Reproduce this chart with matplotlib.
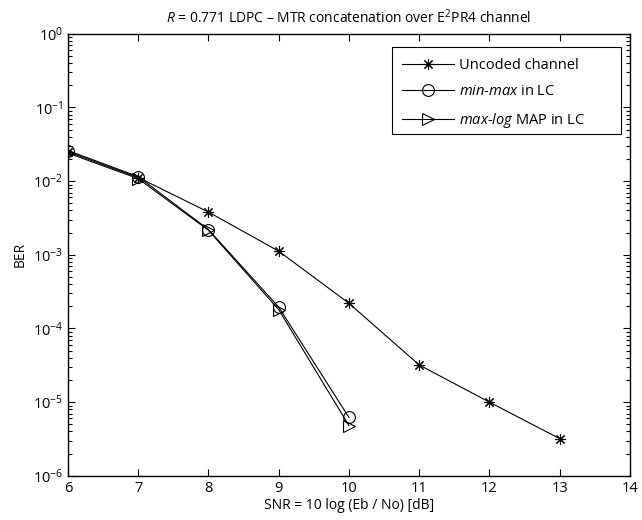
import matplotlib
matplotlib.use("Agg")
import matplotlib.pyplot as plt
from matplotlib.patches import Rectangle
from matplotlib.ticker import LogLocator, NullFormatter

plt.rcParams["font.family"] = ["Open Sans", "DejaVu Sans"]
plt.rcParams["mathtext.fontset"] = "custom"
plt.rcParams["mathtext.rm"] = "Open Sans"
plt.rcParams["mathtext.it"] = "Open Sans:italic"
plt.rcParams["font.size"] = 10

# data
snr_uncoded = [6, 7, 8, 9, 10, 11, 12, 13]
ber_uncoded = [2.5e-2, 1.12e-2, 3.8e-3, 1.12e-3, 2.2e-4, 3.2e-5, 1.0e-5, 3.2e-6]

snr_minmax = [6, 7, 8, 9, 10]
ber_minmax = [2.6e-2, 1.15e-2, 2.2e-3, 1.95e-4, 6.2e-6]

snr_maxlog = [6, 7, 8, 9, 10]
ber_maxlog = [2.4e-2, 1.08e-2, 2.15e-3, 1.8e-4, 4.8e-6]

fig = plt.figure(figsize=(6.42, 5.2), dpi=100)
ax = fig.add_axes([0.106, 0.085, 0.875, 0.85])

ax.semilogy(snr_uncoded, ber_uncoded, color="black", lw=0.8, marker=(8, 2, 0),
            markersize=8, markeredgewidth=0.8, label="Uncoded channel")
ax.semilogy(snr_minmax, ber_minmax, color="black", lw=0.8, marker="o",
            markersize=8.5, markerfacecolor="none", markeredgewidth=0.8,
            label=r"$min$-$max$ in LC")
ax.semilogy(snr_maxlog, ber_maxlog, color="black", lw=0.8, marker=">",
            markersize=8.5, markerfacecolor="none", markeredgewidth=0.8,
            label=r"$max$-$log$ MAP in LC")

ax.set_xlim(6, 14)
ax.set_ylim(1e-6, 1)
ax.set_xticks(range(6, 15))
ax.yaxis.set_major_locator(LogLocator(base=10, numticks=10))
ax.yaxis.set_minor_locator(LogLocator(base=10, subs=range(2, 10), numticks=20))
ax.yaxis.set_minor_formatter(NullFormatter())
ax.tick_params(which="both", direction="in", top=True, right=True, width=0.8)
ax.tick_params(which="major", length=5, labelsize=10.5)
ax.tick_params(which="minor", length=3)
for s in ax.spines.values():
    s.set_linewidth(1.0)

ax.set_xlabel("SNR = 10 log (Eb / No) [dB]", labelpad=2)
ax.set_ylabel("BER")
ax.set_title(r"$R$ = 0.771 LDPC – MTR concatenation over E$^2$PR4 channel",
             fontsize=10, pad=8)

# legend box, MATLAB style with extra room on the right
ax.add_patch(Rectangle((0.576, 0.774), 0.408, 0.197, transform=ax.transAxes,
                       facecolor="white", edgecolor="black", lw=0.8, zorder=4))
leg = ax.legend(loc="upper left", bbox_to_anchor=(0.594, 0.946), frameon=False,
                fontsize=10.5, handlelength=3.6, handletextpad=0.3,
                borderpad=0, borderaxespad=0, labelspacing=0.8)
leg.set_zorder(5)

fig.savefig("out.png", dpi=100)
